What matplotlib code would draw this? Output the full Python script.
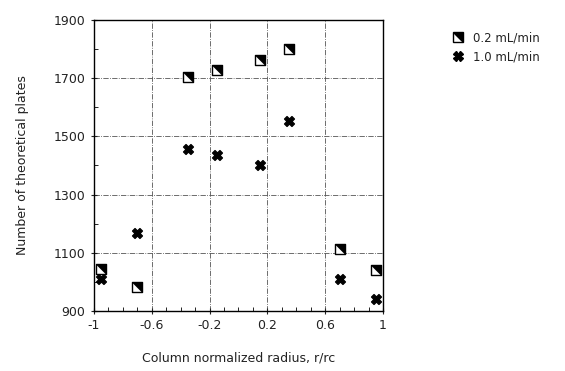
import matplotlib
matplotlib.use("Agg")
import matplotlib.pyplot as plt
from matplotlib.ticker import MultipleLocator
from matplotlib.lines import Line2D

# data
radius = [-0.95, -0.7, -0.35, -0.15, 0.15, 0.35, 0.7, 0.95]
plates_02 = [1045, 982, 1703, 1728, 1761, 1801, 1114, 1040]
plates_10 = [1008, 1167, 1458, 1435, 1403, 1552, 1010, 940]
label_02 = "0.2 mL/min"
label_10 = "1.0 mL/min"

plt.rcParams['font.family'] = ['DejaVu Sans']
plt.rcParams['font.size'] = 9

fig = plt.figure(figsize=(5.65, 3.71), dpi=100)
ax = fig.add_axes([0.166, 0.162, 0.512, 0.784])

# half-filled square: white box + black upper-right triangle
tri = [(-1, 1), (1, 1), (1, -1), (-1, 1)]
ax.scatter(radius, plates_02, marker='s', s=55, facecolor='white',
           edgecolor='black', linewidth=1.0, zorder=3)
ax.scatter(radius, plates_02, marker=tri, s=55, facecolor='black',
           edgecolor='black', linewidth=0.5, zorder=4)
ax.scatter(radius, plates_10, marker='X', s=50, color='black', zorder=3)

ax.set_xlim(-1, 1)
ax.set_ylim(900, 1900)
ax.set_xticks([-1, -0.6, -0.2, 0.2, 0.6, 1])
ax.set_xticklabels(['-1', '-0.6', '-0.2', '0.2', '0.6', '1'])
ax.set_yticks([900, 1100, 1300, 1500, 1700, 1900])
ax.xaxis.set_minor_locator(MultipleLocator(0.1))
ax.yaxis.set_minor_locator(MultipleLocator(100))
ax.tick_params(which='major', direction='inout', length=5, width=0.8,
               colors='#222222')
ax.tick_params(which='minor', direction='in', length=3, width=0.6)
ax.grid(True, which='major', linestyle='-.', linewidth=0.6, color='#555555')
for sp in ax.spines.values():
    sp.set_linewidth(1.0)

ax.set_xlabel("Column normalized radius, r/rc", labelpad=14, color='#222222')
ax.set_ylabel("Number of theoretical plates", labelpad=18, color='#222222')

# legend outside on the right
sq = Line2D([], [], marker='s', linestyle='none', markersize=6.5,
            markerfacecolor='white', markeredgecolor='black')
trh = Line2D([], [], marker=tri, linestyle='none', markersize=6.5,
             markerfacecolor='black', markeredgecolor='black')
xm = Line2D([], [], marker='X', linestyle='none', markersize=7, color='black')
fig.legend([(sq, trh), xm], [label_02, label_10], loc='upper left',
           bbox_to_anchor=(0.775, 0.945), frameon=False, handletextpad=0.5,
           handlelength=1.6, labelspacing=0.55, fontsize=8.5,
           labelcolor='#222222')

fig.savefig("out.png", dpi=100)
